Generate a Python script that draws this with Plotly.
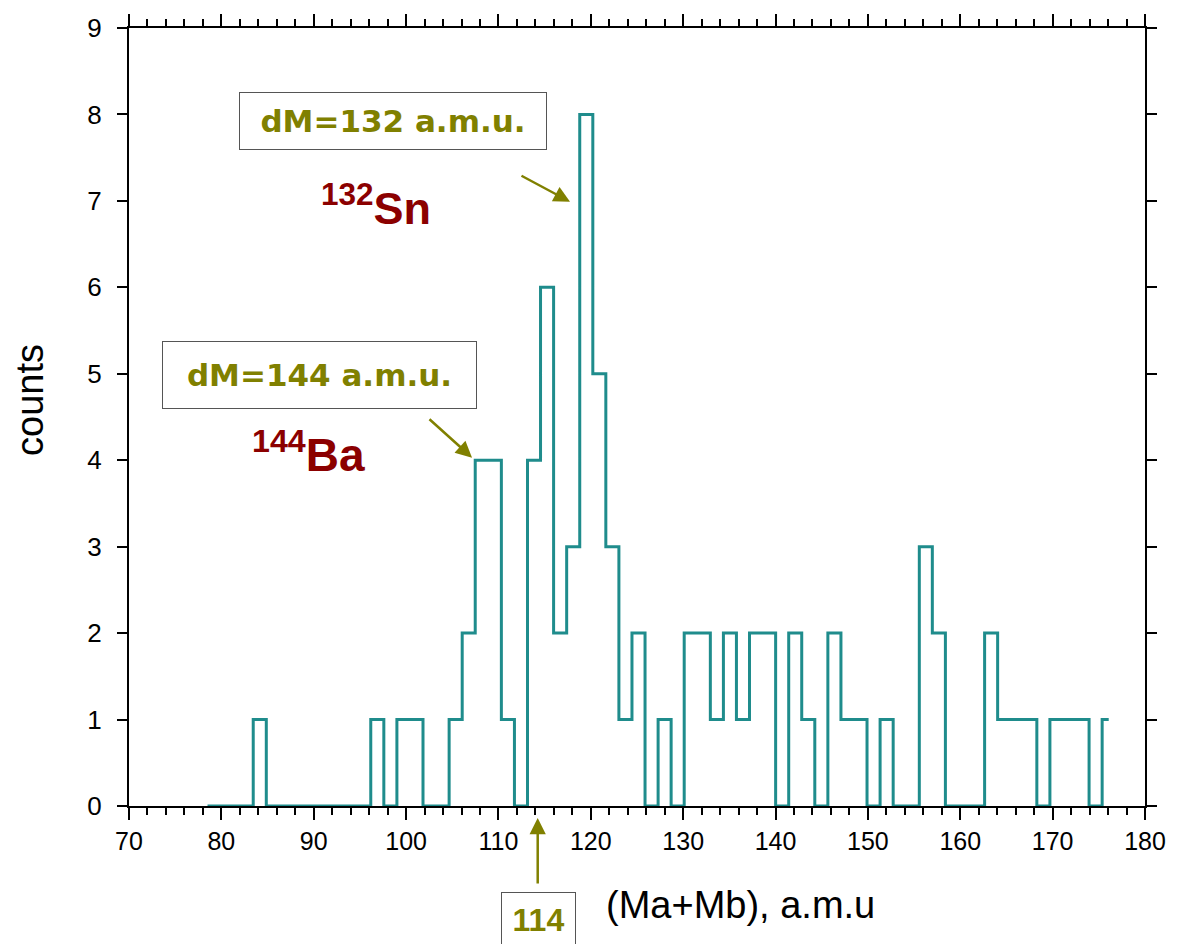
import plotly.graph_objects as go

# Bin centres of the step histogram (a.m.u.)
mass_centers = [78.50, 79.91, 81.33, 82.74, 84.16, 85.57, 86.98, 88.40, 89.81, 91.23,
                92.64, 94.05, 95.47, 96.88, 98.30, 99.71, 101.12, 102.54, 103.95, 105.37,
                106.78, 108.19, 109.61, 111.02, 112.44, 113.85, 115.26, 116.68, 118.09, 119.51,
                120.92, 122.33, 123.75, 125.16, 126.58, 127.99, 129.40, 130.82, 132.23, 133.65,
                135.06, 136.47, 137.89, 139.30, 140.72, 142.13, 143.54, 144.96, 146.37, 147.79,
                149.20, 150.61, 152.03, 153.44, 154.86, 156.27, 157.68, 159.10, 160.51, 161.93,
                163.34, 164.75, 166.17, 167.58, 169.00, 170.41, 171.82, 173.24, 174.65, 176.07]
counts = [0, 0, 0, 0, 1, 0, 0, 0, 0, 0,
          0, 0, 0, 1, 0, 1, 1, 0, 0, 1,
          2, 4, 4, 1, 0, 4, 6, 2, 3, 8,
          5, 3, 1, 2, 0, 1, 0, 2, 2, 1,
          2, 1, 2, 2, 0, 2, 1, 0, 2, 1,
          1, 0, 1, 0, 0, 3, 2, 0, 0, 0,
          2, 1, 1, 1, 0, 1, 1, 1, 0, 1]

x_ticks = [70, 80, 90, 100, 110, 120, 130, 140, 150, 160, 170, 180]
y_ticks = [0, 1, 2, 3, 4, 5, 6, 7, 8, 9]

OLIVE = "#808000"
DARKRED = "#8B0000"
TEAL = "#1F8C8C"
FONT = "Liberation Sans, Arial, sans-serif"
BOXFONT = "DejaVu Sans, Liberation Sans, sans-serif"

fig = go.Figure()
fig.add_trace(go.Scatter(
    x=mass_centers, y=counts, mode="lines",
    line=dict(shape="hvh", color=TEAL, width=3),
    showlegend=False, hoverinfo="x+y",
))

axis_common = dict(
    showline=True, linecolor="black", linewidth=2, mirror="allticks",
    ticks="outside", tickcolor="black", tickwidth=2,
    showgrid=False, zeroline=False,
)

fig.update_xaxes(range=[70, 180], tickvals=x_ticks, ticklen=12,
                 tickfont=dict(family=FONT, size=25, color="black"),
                 minor=dict(dtick=2, tick0=0, ticks="outside", ticklen=7,
                            tickwidth=2, tickcolor="black", showgrid=False),
                 **axis_common)
fig.update_yaxes(range=[0, 9], tickvals=y_ticks, ticklen=10,
                 tickfont=dict(family=FONT, size=26, color="black"),
                 ticklabelstandoff=10, **axis_common)

annotations = [
    # axis titles
    dict(x=-0.0974, y=0.522, xref="paper", yref="paper", xanchor="center", yanchor="middle",
         text="counts", textangle=-90, showarrow=False,
         font=dict(family=FONT, size=38, color="black")),
    dict(x=0.602, y=-0.127, xref="paper", yref="paper", xanchor="center", yanchor="middle",
         text="(Ma+Mb), a.m.u", showarrow=False,
         font=dict(family=FONT, size=38, color="black")),
    # boxed labels
    dict(x=98.53, y=7.92, xref="x", yref="y", text="<b>dM=132 a.m.u.</b>",
         showarrow=False, font=dict(family=BOXFONT, size=31, color=OLIVE),
         width=290, height=40, borderpad=8,
         bordercolor="#555555", borderwidth=1, bgcolor="white"),
    dict(x=90.6, y=4.99, xref="x", yref="y", text="<b>dM=144 a.m.u.</b>",
         showarrow=False, font=dict(family=BOXFONT, size=31, color=OLIVE),
         width=297, height=50, borderpad=8,
         bordercolor="#555555", borderwidth=1, bgcolor="white"),
    # isotope labels
    dict(x=96.74, y=6.95, xref="x", yref="y",
         text="<b><sup>132</sup>Sn</b>", showarrow=False,
         font=dict(family=FONT, size=45, color=DARKRED)),
    dict(x=89.38, y=4.10, xref="x", yref="y",
         text="<b><sup>144</sup>Ba</b>", showarrow=False,
         font=dict(family=FONT, size=46, color=DARKRED)),
    # arrows
    dict(x=117.75, y=6.99, ax=112.33, ay=7.30, xref="x", yref="y", axref="x", ayref="y",
         text="", showarrow=True, arrowhead=2, arrowsize=1.3, arrowwidth=2.5, arrowcolor=OLIVE),
    dict(x=107.14, y=4.03, ax=102.37, ay=4.49, xref="x", yref="y", axref="x", ayref="y",
         text="", showarrow=True, arrowhead=2, arrowsize=1.3, arrowwidth=2.5, arrowcolor=OLIVE),
    dict(x=114.25, y=-0.0154, ax=0, ay=67, xref="x", yref="paper", axref="pixel", ayref="pixel",
         text="", showarrow=True, arrowhead=2, arrowsize=1.3, arrowwidth=2.5, arrowcolor=OLIVE),
    dict(x=114.3, y=-0.1105, xref="x", yref="paper", yanchor="top", text="<b>114</b>",
         showarrow=False, font=dict(family=FONT, size=32, color=OLIVE),
         width=57, height=38, borderpad=8,
         bordercolor="#555555", borderwidth=1, bgcolor="white"),
]

fig.update_layout(
    width=1170, height=936,
    margin=dict(l=121, r=33, t=20, b=138, autoexpand=False),
    paper_bgcolor="white", plot_bgcolor="white",
    annotations=annotations,
    font=dict(family=FONT),
)

fig.write_html("out.html")
